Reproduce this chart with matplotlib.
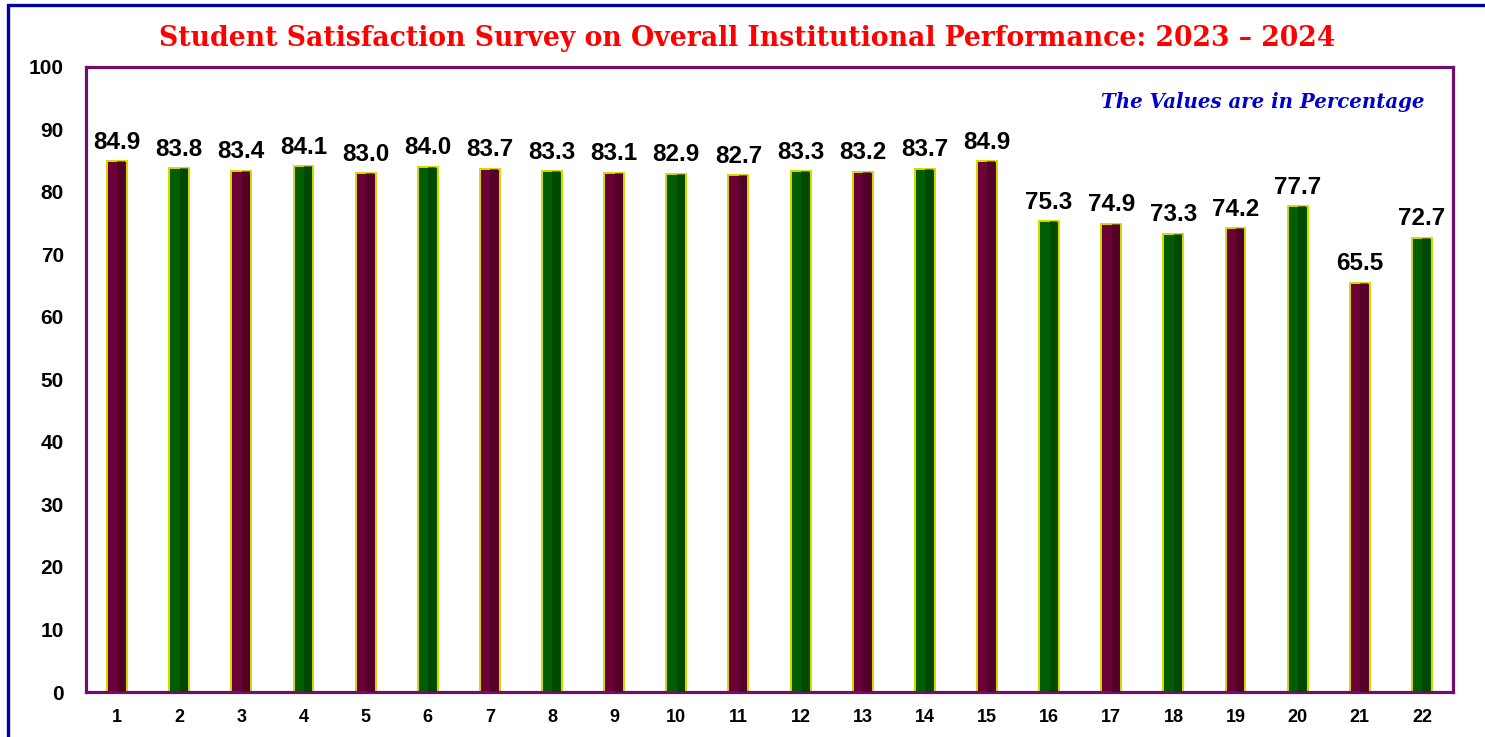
import matplotlib.pyplot as plt
from matplotlib.patches import Rectangle

# survey items and satisfaction scores (%)
items = list(range(1, 23))
scores = [84.9, 83.8, 83.4, 84.1, 83.0, 84.0, 83.7, 83.3, 83.1, 82.9, 82.7,
          83.3, 83.2, 83.7, 84.9, 75.3, 74.9, 73.3, 74.2, 77.7, 65.5, 72.7]
bar_colors = ['#6a0035' if i % 2 == 1 else '#005e00' for i in items]
shade_colors = ['#3f001f' if i % 2 == 1 else '#003800' for i in items]

fig = plt.figure(figsize=(14.85, 7.37), dpi=100)
ax = fig.add_axes([86 / 1485, 1 - 692 / 737, (1453 - 86) / 1485, (692 - 67) / 737])

# outer blue frame (only top and left visible in the image)
fig.patches.append(Rectangle((8 / 1485, -0.2), 1.2, 1.2 - 4.5 / 737,
                             transform=fig.transFigure, fill=False,
                             edgecolor='#0000a8', linewidth=2.4, zorder=0))

w = 0.32
ax.bar(items, scores, width=w, color=bar_colors, edgecolor='#d8d800',
       linewidth=1.4, zorder=2)
# darker right side for a rounded look
ax.bar([i + w * 0.22 for i in items], scores, width=w * 0.4,
       color=shade_colors, linewidth=0, alpha=0.55, zorder=3)

for x, v in zip(items, scores):
    ax.text(x, v + 1.2, f'{v:.1f}', ha='center', va='bottom',
            fontsize=17.5, fontweight='bold', family='Liberation Sans', zorder=4)

ax.set_xlim(0.5, 22.5)
ax.set_ylim(0, 100)
ax.set_yticks(range(0, 101, 10))
ax.set_xticks(items)
ax.tick_params(axis='both', length=0)
ax.tick_params(axis='y', pad=16)
ax.tick_params(axis='x', pad=12)
for lbl in ax.get_yticklabels():
    lbl.set_fontsize(15)
    lbl.set_fontweight('bold')
    lbl.set_family('Liberation Sans')
for lbl in ax.get_xticklabels():
    lbl.set_fontsize(13)
    lbl.set_fontweight('bold')
    lbl.set_family('Liberation Sans')

for s in ax.spines.values():
    s.set_color('#6e0e6e')
    s.set_linewidth(2.3)

fig.text(747 / 1485, 1 - 38 / 737,
         'Student Satisfaction Survey on Overall Institutional Performance: 2023 \u2013 2024',
         ha='center', va='center', color='#ff0000', fontsize=19.2,
         fontweight='bold', family='DejaVu Serif')
ax.text(0.9795, 0.944, 'The Values are in Percentage', transform=ax.transAxes,
        ha='right', va='center', color='#0000cc', fontsize=14.2,
        fontweight='bold', fontstyle='italic', family='DejaVu Serif')

fig.savefig('out.png', dpi=100)
